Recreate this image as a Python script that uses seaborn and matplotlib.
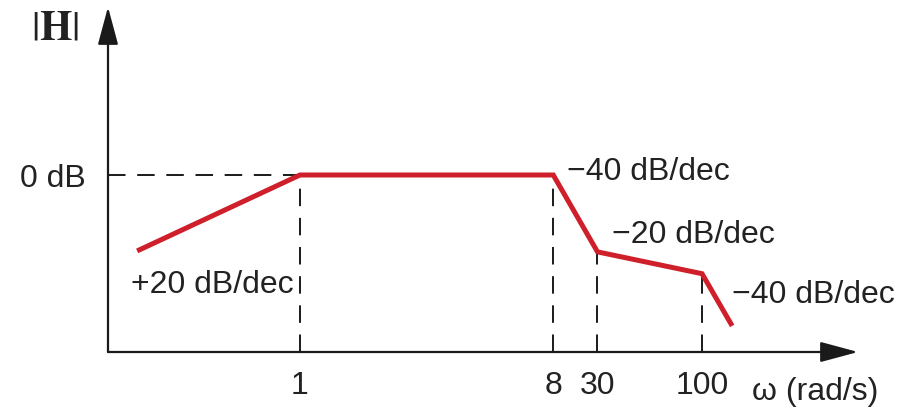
import numpy as np
import pandas as pd
import matplotlib
matplotlib.use("Agg")
import matplotlib.pyplot as plt
import seaborn as sns

# Schematic Bode magnitude sketch (positions along the log-omega axis in decades from w=1)
w_pos = [-0.81, 0.0, 1.26, 1.48, 2.0, 2.15]
mag_db = [-16.0, 0.0, 0.0, -16.2, -20.8, -31.8]

break_labels = ["1", "8", "30", "100"]
break_pos = w_pos[1:5]
break_mag = mag_db[1:5]

slope_labels = ["+20 dB/dec", "\u221240 dB/dec", "\u221220 dB/dec", "\u221240 dB/dec"]
slope_x = [-0.03, 1.33, 1.55, 2.15]
slope_y = [-22.9, 0.8, -12.4, -25.1]
slope_ha = ["right", "left", "left", "left"]

df = pd.DataFrame({"w": w_pos, "mag": mag_db})

sns.set_style("white")
plt.rcParams["font.family"] = ["Liberation Sans", "DejaVu Sans"]
plt.rcParams["mathtext.fontset"] = "stix"

fig = plt.figure(figsize=(9.23, 4.14), dpi=100)
ax = fig.add_axes([108 / 923, 61 / 414, 750 / 923, 345 / 414])
ax.set_xlim(-0.955, 2.776)
ax.set_ylim(-37.3, 35.4)
for s in ax.spines.values():
    s.set_visible(False)

# axes drawn as arrows
arrow = dict(arrowstyle="-|>,head_length=1.3,head_width=0.35", color="#1a1a1a",
             lw=1.6, shrinkA=0, shrinkB=0, mutation_scale=18)
ax.annotate("", xy=(1, 0), xytext=(0, 0), xycoords="axes fraction", arrowprops=arrow)
ax.annotate("", xy=(0, 1), xytext=(0, 0), xycoords="axes fraction", arrowprops=arrow)

# dashed guides
dash = (0, (9, 6))
ax.hlines(0, ax.get_xlim()[0], break_pos[0], colors="#1a1a1a", lw=1.4, linestyles=[dash])
ax.vlines(break_pos, ax.get_ylim()[0], break_mag, colors="#1a1a1a", lw=1.4, linestyles=[dash])

sns.lineplot(data=df, x="w", y="mag", sort=False, color="#cf1f2b", lw=3.6, ax=ax,
             solid_joinstyle="miter", solid_capstyle="butt", zorder=5)

fs = 23
ax.set_xticks(break_pos)
ax.set_xticklabels(break_labels, fontsize=fs, color="#222222")
ax.set_yticks([0])
ax.set_yticklabels(["0 dB"], fontsize=fs, color="#222222")
ax.tick_params(axis="x", length=0, pad=13)
ax.tick_params(axis="y", length=0, pad=16)
ax.set_xlabel("")
ax.set_ylabel("")

for lab, x, y, ha in zip(slope_labels, slope_x, slope_y, slope_ha):
    ax.text(x, y, lab, ha=ha, va="center", fontsize=fs, color="#222222")

ax.text(2.249, -45.5, "\u03c9 (rad/s)", ha="left", va="center", fontsize=fs,
        color="#222222", clip_on=False)
ax.text(-0.071, 0.942, r"$|\mathbf{H}|$", transform=ax.transAxes, ha="center",
        va="center", fontsize=30, color="#222222")

fig.savefig("out.png", dpi=100)
